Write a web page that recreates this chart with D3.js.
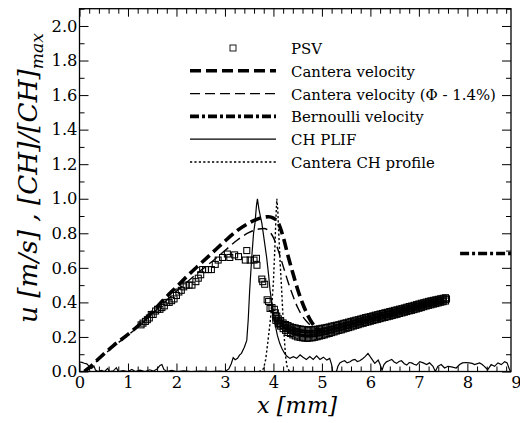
<!DOCTYPE html>
<html><head><meta charset="utf-8">
<script src="https://cdn.jsdelivr.net/npm/d3@7"></script>
<style>html,body{margin:0;padding:0;background:#fff;} svg{display:block;}</style>
</head><body>
<svg id="chart" width="520" height="423"></svg>
<script>
// ---------------- DATA ----------------
const xTickLabels = [0,1,2,3,4,5,6,7,8,9];
const yTickLabels = [0.0,0.2,0.4,0.6,0.8,1.0,1.2,1.4,1.6,1.8,2.0];
const legendLabels = ["PSV","Cantera velocity","Cantera velocity (\u03A6 - 1.4%)","Bernoulli velocity","CH PLIF","Cantera CH profile"];

// PSV measurements, sparse part (x [mm], u [m/s])
const psvSparse = [
[1.27,0.27],[1.31,0.28],[1.36,0.29],[1.40,0.30],[1.44,0.31],[1.48,0.33],[1.52,0.33],[1.57,0.35],[1.61,0.36],[1.66,0.36],
[1.70,0.37],[1.75,0.38],[1.80,0.40],[1.85,0.40],[1.90,0.41],[1.95,0.42],[2.00,0.44],[2.05,0.46],[2.10,0.47],[2.15,0.49],
[2.20,0.50],[2.26,0.50],[2.32,0.50],[2.40,0.52],[2.45,0.54],[2.50,0.56],[2.54,0.59],[2.60,0.59],[2.66,0.59],[2.72,0.59],
[2.80,0.62],[2.86,0.645],[2.95,0.66],[3.05,0.68],[3.10,0.66],[3.20,0.675],[3.28,0.665],[3.45,0.70],[3.42,0.645],[3.52,0.645],
[3.60,0.645],[3.65,0.655],[3.66,0.615],[3.76,0.535],[3.78,0.52],[3.82,0.505],[3.87,0.415],[3.90,0.405],[3.93,0.365],[3.97,0.37],
[4.02,0.36],[4.04,0.34],[4.07,0.32],[4.12,0.28],[4.14,0.27],[7.57,0.42]
];
// PSV measurements, dense band (x, lower, middle, upper)
const psvBandX = [4.05,4.10,4.15,4.20,4.25,4.30,4.35,4.40,4.45,4.50,4.55,4.60,4.65,4.70,4.75,4.80,4.85,4.90,4.95,5.00,
5.05,5.10,5.15,5.20,5.25,5.30,5.35,5.40,5.45,5.50,5.55,5.60,5.65,5.70,5.75,5.80,5.85,5.90,5.95,6.00,
6.05,6.10,6.15,6.20,6.25,6.30,6.35,6.40,6.45,6.50,6.55,6.60,6.65,6.70,6.75,6.80,6.85,6.90,6.95,7.00,
7.05,7.10,7.15,7.20,7.25,7.30,7.35,7.40,7.45,7.50,7.55];
const psvBandLo = [.296,.276,.262,.248,.238,.226,.220,.212,.206,.200,.198,.195,.193,.192,.194,.195,.198,.201,.205,.208,
.212,.217,.220,.225,.229,.234,.238,.241,.246,.250,.254,.258,.263,.267,.271,.276,.279,.284,.287,.291,
.295,.299,.302,.306,.310,.313,.317,.320,.324,.328,.331,.336,.339,.343,.347,.351,.354,.358,.362,.366,
.370,.375,.379,.383,.386,.390,.393,.397,.401,.404,.408];
const psvBandMid = [.310,.292,.278,.266,.256,.248,.241,.236,.231,.227,.224,.221,.219,.218,.218,.219,.221,.223,.226,.229,
.232,.236,.239,.243,.247,.251,.255,.258,.262,.266,.270,.274,.278,.282,.286,.290,.294,.298,.301,.305,
.309,.313,.316,.320,.323,.327,.330,.334,.337,.341,.345,.349,.352,.356,.360,.364,.367,.371,.375,.379,
.383,.387,.391,.395,.398,.401,.404,.408,.411,.414,.418];
const psvBandHi = [.322,.305,.294,.281,.272,.266,.259,.255,.252,.248,.246,.244,.243,.240,.241,.242,.243,.245,.247,.250,
.252,.255,.258,.262,.265,.268,.271,.275,.279,.282,.286,.290,.293,.297,.300,.304,.308,.312,.315,.318,
.322,.326,.329,.333,.336,.340,.343,.347,.350,.354,.357,.361,.364,.368,.372,.376,.379,.383,.387,.391,
.395,.398,.402,.406,.409,.412,.415,.418,.421,.424,.427];

// Cantera velocity
const canteraVel = [[0.10,0.0],[0.20,0.022],[0.40,0.075],[0.70,0.15],[1.00,0.215],[1.25,0.275],[1.50,0.345],[1.75,0.42],
[2.00,0.49],[2.25,0.56],[2.50,0.625],[2.75,0.69],[3.00,0.755],[3.25,0.815],[3.50,0.86],[3.75,0.89],[3.90,0.896],[4.00,0.888],
[4.10,0.86],[4.20,0.78],[4.30,0.67],[4.40,0.57],[4.50,0.475],[4.60,0.395],[4.70,0.33],[4.80,0.28],[4.90,0.25],[5.00,0.235]];
// Cantera velocity (Phi - 1.4%)
const canteraVelLean = [[0.10,0.0],[0.20,0.02],[0.40,0.07],[0.70,0.145],[1.00,0.21],[1.25,0.27],[1.50,0.335],[1.75,0.40],
[2.00,0.465],[2.25,0.525],[2.50,0.585],[2.75,0.64],[3.00,0.70],[3.25,0.76],[3.50,0.805],[3.70,0.825],[3.80,0.828],[3.90,0.815],
[4.00,0.775],[4.10,0.70],[4.20,0.61],[4.30,0.52],[4.40,0.44],[4.50,0.37],[4.60,0.32],[4.70,0.285],[4.80,0.26],[4.90,0.245],[5.00,0.235]];
// Bernoulli velocity
const bernoulliVel = [[7.85,0.683],[8.90,0.683]];
// CH PLIF normalised profile
const chPlif = [
[0.00,0.055],[0.05,0.053],[0.10,0.048],[0.15,0.044],[0.20,0.030],[0.25,0.018],[0.30,0.030],[0.33,0.008],[0.38,0.0],[0.45,0.006],
[0.52,0.0],[0.58,0.018],[0.62,0.0],[0.70,0.004],[0.76,0.022],[0.80,0.0],[0.90,0.005],[1.00,0.0],[1.08,0.012],[1.15,0.0],
[1.25,0.008],[1.35,0.0],[1.45,0.010],[1.52,0.002],[1.60,0.015],[1.66,0.035],[1.70,0.040],[1.74,0.012],[1.80,0.0],[1.90,0.006],
[2.00,0.0],[2.15,0.004],[2.30,0.0],[2.50,0.003],[2.70,0.0],[2.90,0.002],[3.00,0.0],[3.08,0.015],[3.13,0.045],[3.17,0.080],
[3.21,0.068],[3.26,0.076],[3.30,0.095],[3.34,0.105],[3.40,0.14],[3.45,0.18],[3.48,0.30],[3.51,0.47],[3.55,0.65],[3.59,0.80],
[3.62,0.86],[3.65,0.96],[3.67,1.0],[3.70,0.94],[3.73,0.90],[3.76,0.86],[3.81,0.76],[3.86,0.66],[3.90,0.56],[3.93,0.47],
[3.98,0.37],[4.03,0.28],[4.08,0.21],[4.13,0.163],[4.18,0.13],[4.23,0.105],[4.28,0.088],[4.34,0.076],[4.41,0.086],[4.48,0.076],
[4.55,0.096],[4.61,0.083],[4.68,0.070],[4.75,0.086],[4.82,0.070],[4.89,0.090],[4.96,0.070],[5.03,0.083],[5.10,0.066],[5.16,0.076],
[5.20,0.040],[5.22,0.0],[5.30,0.0],[5.33,0.030],[5.37,0.050],[5.42,0.058],[5.47,0.062],[5.52,0.050],[5.58,0.056],[5.63,0.066],
[5.68,0.070],[5.73,0.058],[5.78,0.062],[5.84,0.074],[5.89,0.086],[5.95,0.105],[6.02,0.076],[6.09,0.047],[6.16,0.066],[6.20,0.040],
[6.24,0.008],[6.28,0.040],[6.33,0.056],[6.38,0.062],[6.44,0.070],[6.49,0.055],[6.54,0.047],[6.59,0.058],[6.64,0.062],[6.70,0.045],
[6.75,0.037],[6.80,0.052],[6.85,0.050],[6.90,0.042],[6.95,0.037],[7.02,0.057],[7.09,0.050],[7.16,0.040],[7.22,0.050],[7.29,0.030],
[7.34,0.0],[7.39,0.030],[7.46,0.040],[7.53,0.020],[7.60,0.030],[7.67,0.027],[7.77,0.020],[7.84,0.040],[7.90,0.050],[7.97,0.052],
[8.04,0.050],[8.10,0.047],[8.15,0.040],[8.25,0.050],[8.30,0.042],[8.35,0.030],[8.42,0.010],[8.49,0.040],[8.56,0.030],[8.63,0.050],
[8.70,0.040],[8.77,0.057],[8.82,0.050],[8.87,0.010],[8.90,0.0]];
// Cantera CH profile
const canteraCH = [[3.70,0],[3.76,0.004],[3.80,0.02],[3.84,0.07],[3.88,0.16],[3.93,0.28],[3.97,0.40],[4.00,0.52],[4.03,0.72],
[4.05,0.88],[4.07,1.0],[4.09,0.93],[4.11,0.80],[4.14,0.62],[4.17,0.47],[4.20,0.30],[4.23,0.17],[4.25,0.09],[4.28,0.03],[4.32,0.005],[4.40,0]];

// ---------------- CHART ----------------
const svg = d3.select('#chart');
const FONT = '"DejaVu Serif",serif';
const x = d3.scaleLinear().domain([0, 8.9]).range([79.5, 511]);
const y = d3.scaleLinear().domain([0, 2.1]).range([371.5, 8.7]);
const X0 = x(0), X1 = x(8.9), Y0 = y(0), Y1 = y(2.1);

// scale a font so that a text sample reaches a target width (font metric matching)
function fitSize(sample, basePx, target, italic){
  const t = svg.append('text').style('font-family',FONT).style('font-size',basePx+'px')
    .style('font-style', italic ? 'italic' : 'normal').text(sample);
  const w = t.node().getComputedTextLength(); t.remove();
  return w > 0 ? basePx*target/w : basePx;
}
const tickPx = fitSize('0.8', 20, 26, false);
const legPx  = fitSize('Cantera CH profile', 18, 144, false);
const xTitlePx = fitSize('x [mm]', 26, 80, true);

svg.append('rect').attr('width',520).attr('height',423).attr('fill','#fff');
svg.append('defs').append('clipPath').attr('id','clip')
  .append('rect').attr('x',X0).attr('y',Y1).attr('width',X1-X0).attr('height',Y0-Y1);

const styles = {
  canteraVel:     {w:3.6, dash:'11,5'},
  canteraVelLean: {w:1.4, dash:'10,5'},
  bernoulliVel:   {w:3.6, dash:'9,3,3,3'},
  chPlif:         {w:1.2, dash:null},
  canteraCH:      {w:1.4, dash:'2.2,2.2'}
};

const plot = svg.append('g').attr('clip-path','url(#clip)');
const lineLin = d3.line().x(d=>x(d[0])).y(d=>y(d[1]));
const lineSmooth = d3.line().x(d=>x(d[0])).y(d=>y(d[1])).curve(d3.curveMonotoneX);

// PSV markers
const psvAll = psvSparse.slice();
psvBandX.forEach((xv,i)=>{ psvAll.push([xv,psvBandLo[i]]); psvAll.push([xv,psvBandMid[i]]); psvAll.push([xv,psvBandHi[i]]); });
const S = 6;
plot.append('g').selectAll('rect').data(psvAll).join('rect')
  .attr('x',d=>x(d[0])-S/2).attr('y',d=>y(d[1])-S/2).attr('width',S).attr('height',S)
  .attr('fill','none').attr('stroke','#000').attr('stroke-width',1.05);

function drawLine(data, st, gen){
  plot.append('path').datum(data).attr('d',gen).attr('fill','none').attr('stroke','#000')
    .attr('stroke-width',st.w).attr('stroke-dasharray',st.dash);
}
drawLine(chPlif, styles.chPlif, lineLin);
drawLine(canteraCH, styles.canteraCH, lineLin);
drawLine(canteraVelLean, styles.canteraVelLean, lineSmooth);
drawLine(canteraVel, styles.canteraVel, lineSmooth);
drawLine(bernoulliVel, styles.bernoulliVel, lineLin);

// Axes (ticks inward)
const yMinor = d3.range(0, 2.1001, 0.1).filter(v=>Math.abs(Math.round(v*10)%2)===1);
const xMinor = d3.range(0, 8.9001, 0.2).filter(v=>Math.abs(v-Math.round(v))>0.01);
const xMajor = xTickLabels.filter(v=>v<=8.9);

function styleAxis(g){
  g.attr('font-family',null).attr('font-size',null);
  g.select('.domain').remove();
  g.selectAll('line').attr('stroke','#000').attr('stroke-width',1);
  g.selectAll('text').style('font-family',FONT).style('font-size',tickPx+'px').attr('fill','#000');
}
// left
svg.append('g').attr('transform',`translate(${X0},0)`)
  .call(d3.axisLeft(y).tickValues(yTickLabels).tickSize(-9).tickPadding(2).tickFormat(d3.format('.1f'))).call(styleAxis);
svg.append('g').attr('transform',`translate(${X0},0)`)
  .call(d3.axisLeft(y).tickValues(yMinor).tickSize(-5).tickFormat('')).call(styleAxis);
// right
svg.append('g').attr('transform',`translate(${X1},0)`)
  .call(d3.axisRight(y).tickValues(yTickLabels).tickSize(-9).tickFormat('')).call(styleAxis);
svg.append('g').attr('transform',`translate(${X1},0)`)
  .call(d3.axisRight(y).tickValues(yMinor).tickSize(-5).tickFormat('')).call(styleAxis);
// bottom
const bot = svg.append('g').attr('transform',`translate(0,${Y0})`)
  .call(d3.axisBottom(x).tickValues(xTickLabels).tickSize(-8).tickPadding(5).tickFormat(d3.format('d'))).call(styleAxis);
bot.selectAll('.tick').filter(d=>d>8.9).select('line').remove();
svg.append('g').attr('transform',`translate(0,${Y0})`)
  .call(d3.axisBottom(x).tickValues(xMinor).tickSize(-5).tickFormat('')).call(styleAxis);
// top
svg.append('g').attr('transform',`translate(0,${Y1})`)
  .call(d3.axisTop(x).tickValues(xMajor).tickSize(-8).tickFormat('')).call(styleAxis);
svg.append('g').attr('transform',`translate(0,${Y1})`)
  .call(d3.axisTop(x).tickValues(xMinor).tickSize(-5).tickFormat('')).call(styleAxis);

// frame
svg.append('rect').attr('x',X0).attr('y',Y1).attr('width',X1-X0).attr('height',Y0-Y1)
  .attr('fill','none').attr('stroke','#000').attr('stroke-width',1.3);

// axis titles
svg.append('text').attr('x',297).attr('y',413).attr('text-anchor','middle')
  .style('font-family',FONT).style('font-style','italic').style('font-size',xTitlePx+'px').text('x [mm]');
const yt = svg.append('text').attr('transform','translate(37,178) rotate(-90)').attr('text-anchor','middle')
  .style('font-family',FONT).style('font-style','italic').style('font-size','26px');
yt.append('tspan').text('u [m/s] , [CH]/[CH]');
const ySub = yt.append('tspan').style('font-size','17px').attr('dy',6).text('max');
// fit the whole y title to its reference length
{
  const w = yt.node().getComputedTextLength();
  const k = 290 / w;
  yt.style('font-size', (26*k)+'px'); ySub.style('font-size',(17*k)+'px').attr('dy',6*k);
}

// legend
const legY0 = 48, legDY = 22.8, lx0 = 190, lx1 = 276, tx = 291;
const leg = svg.append('g');
const legStyles = [null, styles.canteraVel, styles.canteraVelLean, styles.bernoulliVel, styles.chPlif, styles.canteraCH];
legendLabels.forEach((lab,i)=>{
  const cy = legY0 + i*legDY;
  if(i===0){
    leg.append('rect').attr('x',233-S/2).attr('y',cy-S/2).attr('width',S).attr('height',S)
      .attr('fill','none').attr('stroke','#000').attr('stroke-width',0.9);
  } else {
    const st = legStyles[i];
    leg.append('line').attr('x1',lx0).attr('x2',lx1).attr('y1',cy).attr('y2',cy)
      .attr('stroke','#000').attr('stroke-width',st.w).attr('stroke-dasharray',st.dash);
  }
  leg.append('text').attr('x',tx).attr('y',cy+6).style('font-family',FONT).style('font-size',legPx+'px').text(lab);
});
</script>
</body></html>
